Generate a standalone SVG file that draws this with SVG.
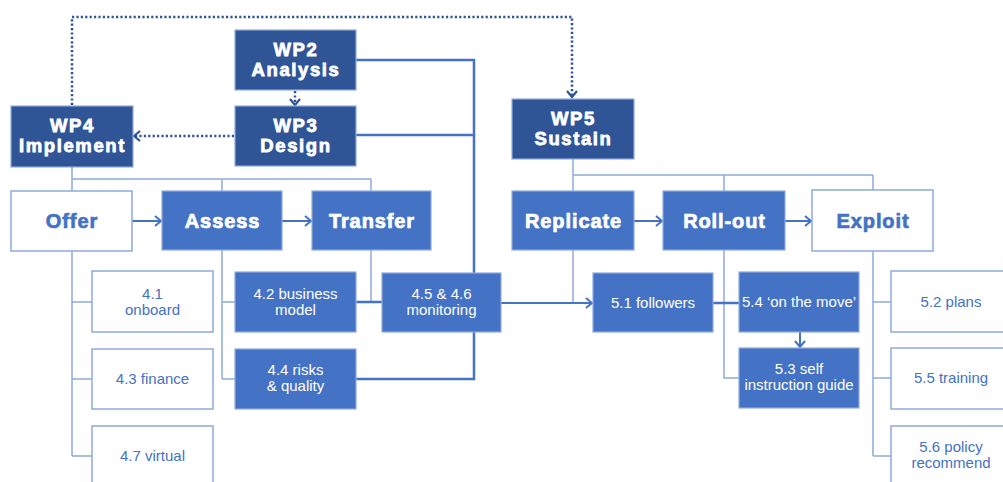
<svg xmlns="http://www.w3.org/2000/svg" width="1003" height="482" viewBox="0 0 1003 482">
  <style>
    .bg { fill: #ffffff; }
    .wp { fill: #2F5597; stroke: #8FAADC; stroke-width: 1.2; }
    .task { fill: #4472C4; stroke: #8FAADC; stroke-width: 1.2; }
    .open { fill: #ffffff; stroke: #8FAADC; stroke-width: 1.5; }
    .wpt { font-family: "Liberation Sans", Arial, sans-serif; font-weight: bold; font-size: 18.5px; fill: #ffffff; stroke: #ffffff; stroke-width: 0.8; letter-spacing: 1.6px; text-anchor: middle; }
    .ht { font-family: "Liberation Sans", Arial, sans-serif; font-weight: bold; font-size: 20px; stroke-width: 0.7; letter-spacing: 0.9px; text-anchor: middle; }
    .ht.w { fill: #ffffff; stroke: #ffffff; }
    .ht.b { fill: #4472C4; stroke: #4472C4; }
    .st { font-family: "Liberation Sans", Arial, sans-serif; font-size: 15px; text-anchor: middle; }
    .st.w { fill: #ffffff; }
    .st.b { fill: #4472C4; }
    .tree { fill: none; stroke: #8FAADC; stroke-width: 1.5; }
    .link { fill: none; stroke: #4472C4; stroke-width: 2.5; }
    .flow { fill: none; stroke: #4472C4; stroke-width: 2; marker-end: url(#chev); }
    .dot { fill: none; stroke: #2F5597; stroke-width: 2.5; stroke-dasharray: 2.2 2.2; }
  </style>
  <defs>
    <marker id="chev" markerUnits="userSpaceOnUse" markerWidth="12" markerHeight="14" refX="8" refY="6" orient="auto">
      <path d="M2,1 L8,6 L2,11" fill="none" stroke="#4472C4" stroke-width="2"/>
    </marker>
    <marker id="dchev" markerUnits="userSpaceOnUse" markerWidth="12" markerHeight="14" refX="8" refY="6" orient="auto">
      <path d="M2,1 L8,6 L2,11" fill="none" stroke="#2F5597" stroke-width="2.2"/>
    </marker>
  </defs>
  <rect class="bg" x="0" y="0" width="1003" height="482"/>

  <!-- connectors -->
  <g id="connectors">
    <!-- WP4 hierarchy -->
    <path class="tree" d="M72,167 V179 H371 M72,179 V191 M222,179 V191 M371,179 V191"/>
    <path class="tree" d="M72,251 V456 M72,302 H92 M72,379 H92 M72,456 H92"/>
    <path class="tree" d="M222,250 V379 M222,302 H235 M222,379 H235"/>
    <path class="tree" d="M371,250 V302"/>
    <!-- WP5 hierarchy -->
    <path class="tree" d="M573,159 V175 H873 M573,175 V191 M724,175 V191 M873,175 V190"/>
    <path class="tree" d="M573,250 V303"/>
    <path class="tree" d="M724,250 V378 H739"/>
    <path class="tree" d="M873,251 V456 M873,302 H891 M873,378 H891 M873,456 H891"/>
    <!-- analysis / design feed into monitoring -->
    <path class="link" d="M356,60 H474 V273 M356,135 H474 M474,332 V379 H356"/>
    <path class="link" d="M356,302 H382"/>
    <path class="link" d="M713,303 H739"/>
    <!-- flow arrows -->
    <path class="flow" d="M132,221 H161"/>
    <path class="flow" d="M282,221 H311"/>
    <path class="flow" d="M634,221 H662"/>
    <path class="flow" d="M785,221 H811"/>
    <path class="flow" d="M501,303 H592"/>
    <path class="flow" d="M800,332 V347"/>
    <!-- dotted dependencies -->
    <path class="dot" d="M72,105 V17 H572 V97" marker-end="url(#dchev)"/>
    <path class="dot" d="M295,91 V105" marker-end="url(#dchev)"/>
    <path class="dot" d="M234,136 H134" marker-end="url(#dchev)"/>
  </g>

  <!-- work packages -->
  <g id="wp2">
    <rect class="wp" x="235" y="30" width="121" height="60"/>
    <text class="wpt" x="296" y="55.5">WP2</text>
    <text class="wpt" x="296" y="76">Analysis</text>
  </g>
  <g id="wp3">
    <rect class="wp" x="235" y="106" width="121" height="60"/>
    <text class="wpt" x="296" y="131.5">WP3</text>
    <text class="wpt" x="296" y="152">Design</text>
  </g>
  <g id="wp4">
    <rect class="wp" x="11" y="106" width="122" height="61"/>
    <text class="wpt" x="72.5" y="132">WP4</text>
    <text class="wpt" x="72.5" y="152">Implement</text>
  </g>
  <g id="wp5">
    <rect class="wp" x="512" y="99" width="122" height="60"/>
    <text class="wpt" x="573.5" y="124.5">WP5</text>
    <text class="wpt" x="573.5" y="145">Sustain</text>
  </g>

  <!-- WP4 stages -->
  <g id="offer">
    <rect class="open" x="11" y="191" width="121" height="60"/>
    <text class="ht b" x="72" y="228">Offer</text>
  </g>
  <g id="assess">
    <rect class="task" x="162" y="191" width="120" height="59"/>
    <text class="ht w" x="222.5" y="228">Assess</text>
  </g>
  <g id="transfer">
    <rect class="task" x="312" y="191" width="119" height="59"/>
    <text class="ht w" x="372" y="228">Transfer</text>
  </g>

  <!-- WP4 tasks -->
  <g id="t41">
    <rect class="open" x="92" y="271" width="121" height="61"/>
    <text class="st b" x="152.5" y="299">4.1</text>
    <text class="st b" x="152.5" y="315">onboard</text>
  </g>
  <g id="t43">
    <rect class="open" x="92" y="349" width="121" height="60"/>
    <text class="st b" x="152.5" y="384">4.3 finance</text>
  </g>
  <g id="t47">
    <rect class="open" x="92" y="426" width="121" height="62"/>
    <text class="st b" x="152.5" y="460.5">4.7 virtual</text>
  </g>
  <g id="t42">
    <rect class="task" x="235" y="272" width="121" height="60"/>
    <text class="st w" x="295.5" y="299">4.2 business</text>
    <text class="st w" x="295.5" y="315">model</text>
  </g>
  <g id="t44">
    <rect class="task" x="235" y="349" width="121" height="60"/>
    <text class="st w" x="295.5" y="375">4.4 risks</text>
    <text class="st w" x="295.5" y="391">&amp; quality</text>
  </g>
  <g id="t4546">
    <rect class="task" x="382" y="273" width="119" height="59"/>
    <text class="st w" x="441.5" y="299">4.5 &amp; 4.6</text>
    <text class="st w" x="441.5" y="315">monitoring</text>
  </g>

  <!-- WP5 stages -->
  <g id="replicate">
    <rect class="task" x="512" y="191" width="122" height="59"/>
    <text class="ht w" x="573.5" y="228">Replicate</text>
  </g>
  <g id="rollout">
    <rect class="task" x="663" y="191" width="122" height="59"/>
    <text class="ht w" x="724.5" y="228">Roll-out</text>
  </g>
  <g id="exploit">
    <rect class="open" x="812" y="190" width="121" height="61"/>
    <text class="ht b" x="873" y="228">Exploit</text>
  </g>

  <!-- WP5 tasks -->
  <g id="t51">
    <rect class="task" x="593" y="273" width="120" height="59"/>
    <text class="st w" x="653" y="308">5.1 followers</text>
  </g>
  <g id="t54">
    <rect class="task" x="739" y="272" width="120" height="60"/>
    <text class="st w" x="799" y="307">5.4 ‘on the move’</text>
  </g>
  <g id="t53">
    <rect class="task" x="739" y="348" width="120" height="60"/>
    <text class="st w" x="799" y="374">5.3 self</text>
    <text class="st w" x="799" y="390">instruction guide</text>
  </g>
  <g id="t52">
    <rect class="open" x="891" y="271" width="121" height="61"/>
    <text class="st b" x="951" y="307">5.2 plans</text>
  </g>
  <g id="t55">
    <rect class="open" x="891" y="348" width="121" height="61"/>
    <text class="st b" x="951" y="382.5">5.5 training</text>
  </g>
  <g id="t56">
    <rect class="open" x="891" y="426" width="121" height="62"/>
    <text class="st b" x="951" y="452">5.6 policy</text>
    <text class="st b" x="951" y="467.5">recommend</text>
  </g>
</svg>
